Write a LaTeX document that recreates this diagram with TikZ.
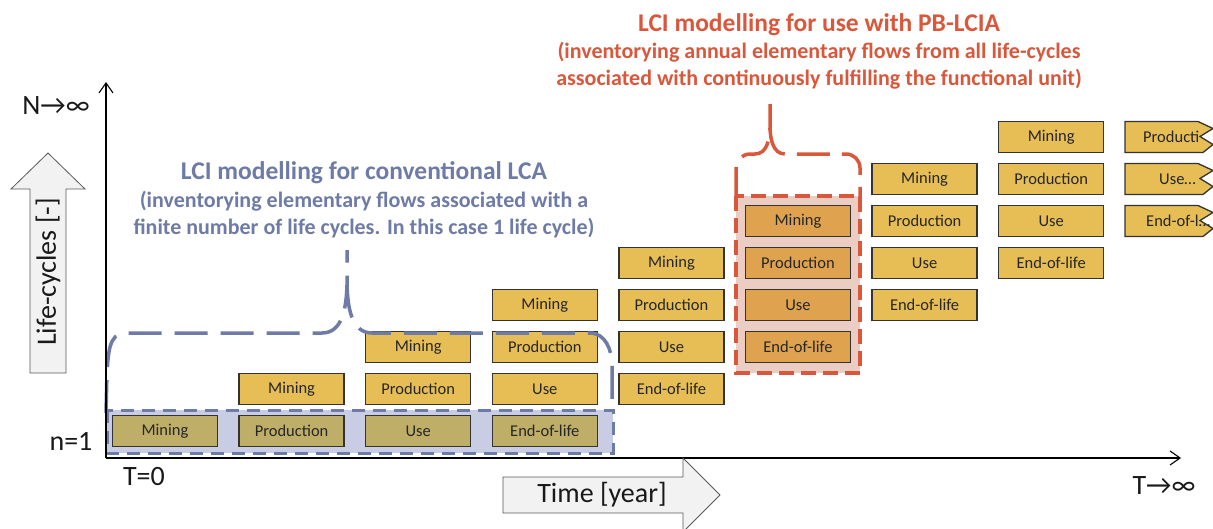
\documentclass[tikz,border=0pt]{standalone}
\usepackage{fontspec}
\setmainfont{Carlito}
\usepackage{xcolor}
\usepackage{tikz}
\usetikzlibrary{arrows.meta}

\definecolor{phase}{HTML}{E6BE55}
\definecolor{phaseconv}{HTML}{BFAE68}
\definecolor{phasepb}{HTML}{DFA350}
\definecolor{convblue}{HTML}{6D7BA6}
\definecolor{convfill}{HTML}{C8CDE3}
\definecolor{pbred}{HTML}{D9573B}
\definecolor{pbfill}{HTML}{EBCDC3}
\definecolor{arrowfill}{HTML}{F2F2F2}

\begin{document}
\begin{tikzpicture}[x=1pt,y=-1pt,
  phasebox/.style={draw=black!80,line width=1.3pt,minimum width=105pt,minimum height=31pt,
    inner sep=0pt,text=black!85,font=\fontsize{16.5}{19}\selectfont},
  tornbox/.style={draw=black!80,line width=1.3pt,fill=phase},
  phasetext/.style={inner sep=0pt,text=black!85,font=\fontsize{16.5}{19}\selectfont},
  axislabel/.style={inner sep=0pt,text=black!90,font=\fontsize{28}{33}\selectfont},
  axis/.style={line width=1.2pt,-{Straight Barb[length=10pt,width=14pt,line width=1.1pt]}},
  blockarrow/.style={draw=black!65,line width=0.8pt,fill=arrowfill},
  convhead/.style={inner sep=0pt,anchor=base,text=convblue,font=\bfseries\fontsize{25.5}{30}\selectfont},
  convsub/.style={inner sep=0pt,anchor=base,text=convblue,font=\bfseries\fontsize{22}{26}\selectfont},
  pbhead/.style={convhead,text=pbred},
  pbsub/.style={convsub,text=pbred},
  convframe/.style={draw=convblue,line width=3pt,dash pattern=on 13pt off 8pt},
  convbrace/.style={draw=convblue,line width=3.5pt,dash pattern=on 33pt off 13pt},
  pbframe/.style={draw=pbred,line width=4pt,dash pattern=on 15pt off 7pt},
  pbbrace/.style={draw=pbred,line width=3.5pt,dash pattern=on 33pt off 12pt}]
\useasboundingbox (0,0) rectangle (1213,528);

\fill[convfill] (107,410) rectangle (613,453);
\fill[pbfill] (736,196) rectangle (860,373);

\foreach \t in {0,...,7}
  \foreach \ph [count=\k from 0] in {Mining,Production,Use,End-of-life} {
    \pgfmathtruncatemacro\n{\t-\k}
    \ifnum\n<0 \else
      \def\boxfill{phase}
      \ifnum\n=0 \def\boxfill{phaseconv}\fi
      \ifnum\t=5 \def\boxfill{phasepb}\fi
      \node[phasebox,fill=\boxfill] (box-\t-\n) at ({165+126.6*\t},{431-42*\n}) {\ph};
    \fi
  }

\foreach \n/\ph/\x in {7/Producti/1143,6/Use…/1159,5/End-of-l…/1146} {
  \pgfmathsetmacro\yt{415.5-42*\n}
  \draw[tornbox] (1125,\yt) -- (1198,\yt) -- (1213,\yt+7) -- (1200,\yt+15) -- (1213,\yt+23)
    -- (1203,\yt+31) -- (1125,\yt+31) -- cycle;
  \node[phasetext,anchor=west] (torn-\n) at (\x,{431-42*\n}) {\ph};
}

\draw[convframe] (107,410) rectangle (613,453);
\draw[pbframe] (736,196) rectangle (860,373);

\draw[convbrace] (106,413) -- (107,372) to[out=85,in=180] (125,333) -- (322,333)
  to[out=0,in=-92] (347,285) -- (347,250);
\draw[convbrace] (347,285) to[out=-88,in=180] (372,333) -- (590,333) to[out=0,in=90] (612,365)
  -- (612,400);
\draw[pbbrace] (736,200) -- (736,170) to[out=90,in=180] (750,154) -- (755,154)
  to[out=0,in=-92] (770,128) -- (770,104);
\draw[pbbrace] (770,128) to[out=-88,in=180] (785,154) -- (846,154) to[out=0,in=90] (860,168)
  -- (860,200);

\coordinate (origin) at (106,458);
\coordinate (ytop) at (106,82);
\coordinate (xend) at (1181,458);
\draw[axis] (origin) -- (ytop);
\draw[axis] (origin) -- (xend);

\draw[blockarrow] (30,373) -- (30,189) -- (11,189) -- (48,153) -- (85,189) -- (66,189)
  -- (66,373) -- cycle;
\node[axislabel,rotate=90] (lifecycles) at (48,272) {Life-cycles [-]};
\draw[blockarrow] (503,477) -- (683,477) -- (683,458) -- (720,495) -- (683,532) -- (683,513)
  -- (503,513) -- cycle;
\node[axislabel] (time) at (602,495) {Time [year]};

\node[axislabel] (ninf) at (56,106) {N→∞};
\node[axislabel] (none) at (71,441) {n=1};
\node[axislabel] (tzero) at (144,477) {T=0};
\node[axislabel] (tinf) at (1164,486) {T→∞};

\node[convhead] (convline1) at (364,179) {LCI modelling for conventional LCA};
\node[convsub] (convline2) at (364,207) {(inventorying elementary flows associated with a};
\node[convsub] (convline3) at (364,234) {finite number of life cycles. In this case 1 life cycle)};

\node[pbhead] (pbline1) at (819,31) {LCI modelling for use with PB-LCIA};
\node[pbsub] (pbline2) at (819,58) {(inventorying annual elementary flows from all life-cycles};
\node[pbsub] (pbline3) at (819,85) {associated with continuously fulfilling the functional unit)};
\end{tikzpicture}
\end{document}
